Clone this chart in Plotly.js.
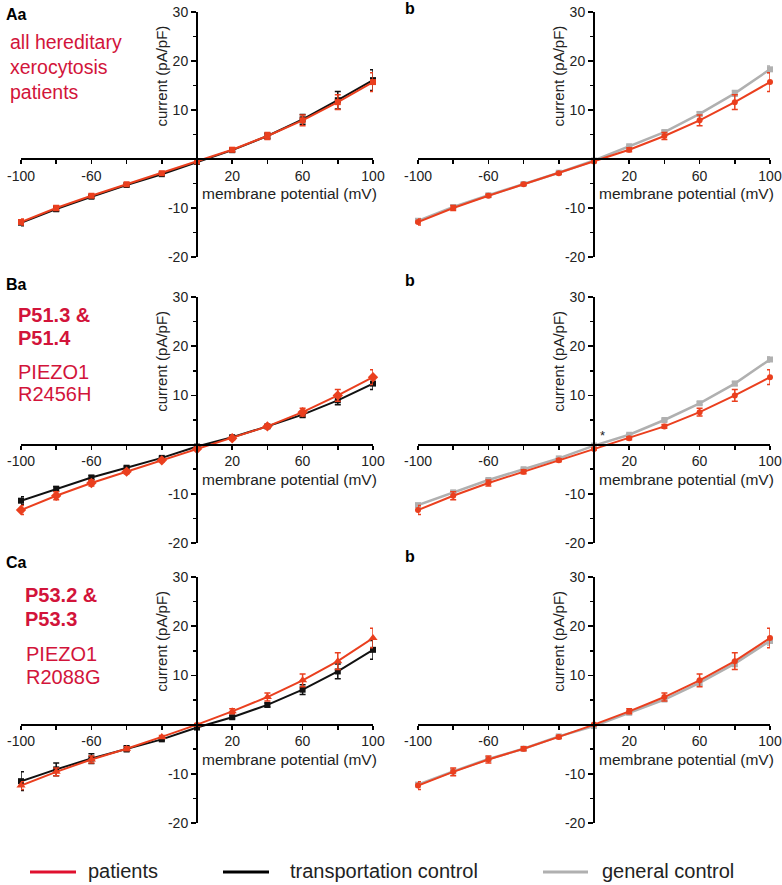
<!DOCTYPE html>
<html>
<head>
<meta charset="utf-8">
<script src="https://cdn.plot.ly/plotly-3.0.1.min.js"></script>
<style>html,body{margin:0;padding:0;background:#fff;}#chart{width:782px;height:885px;}</style>
</head>
<body>
<div id="chart"></div>
<script>
// ---------- data ----------
const voltage = [-100, -80, -60, -40, -20, 0, 20, 40, 60, 80, 100];
const xTickVals = [-100, -80, -60, -40, -20, 0, 20, 40, 60, 80, 100];
const xTickText = ['-100', '', '-60', '', '', '', '20', '', '60', '', '100'];
const yTickVals = [-20, -10, 0, 10, 20, 30];
const yTickText = ['-20', '-10', '', '10', '20', '30'];
const yMinorVals = [-15, -5, 5, 15, 25];

// A: all hereditary xerocytosis patients
const A_patients      = [-12.85, -10.0, -7.5, -5.15, -2.9, -0.5, 1.9, 4.7, 7.9, 11.6, 15.7];
const A_patients_err  = [0.6, 0.5, 0.3, 0.2, 0.2, 0.2, 0.4, 0.7, 1.1, 1.5, 1.9];
const A_transport     = [-13.0, -10.2, -7.7, -5.3, -3.1, -0.6, 1.8, 4.7, 8.1, 12.0, 16.1];
const A_transport_err = [0.6, 0.5, 0.3, 0.3, 0.2, 0.2, 0.3, 0.6, 1.0, 1.8, 2.1];
const A_general       = [-12.6, -9.8, -7.4, -5.1, -2.8, -0.3, 2.6, 5.5, 9.2, 13.4, 18.3];
const A_general_err   = [0.4, 0.3, 0.2, 0.2, 0.1, 0.1, 0.2, 0.3, 0.4, 0.6, 0.7];

// B: P51.3 & P51.4, PIEZO1 R2456H
const B_patients      = [-13.3, -10.4, -7.8, -5.5, -3.2, -0.9, 1.3, 3.7, 6.6, 10.0, 13.7];
const B_patients_err  = [0.9, 0.8, 0.6, 0.4, 0.3, 0.2, 0.3, 0.4, 0.8, 1.2, 1.5];
const B_transport     = [-11.4, -9.0, -6.7, -4.7, -2.7, -0.4, 1.5, 3.7, 6.1, 9.0, 12.4];
const B_transport_err = [0.8, 0.5, 0.4, 0.3, 0.2, 0.2, 0.3, 0.3, 0.6, 0.9, 1.2];
const B_general       = [-12.3, -9.7, -7.2, -5.0, -2.8, -0.2, 2.0, 5.0, 8.4, 12.4, 17.3];
const B_general_err   = [0.3, 0.3, 0.2, 0.2, 0.1, 0.1, 0.2, 0.2, 0.3, 0.4, 0.5];

// C: P53.2 & P53.3, PIEZO1 R2088G
const C_patients      = [-12.4, -9.6, -7.1, -4.9, -2.5, 0.0, 2.7, 5.6, 9.0, 12.9, 17.6];
const C_patients_err  = [0.8, 0.8, 0.7, 0.4, 0.3, 0.2, 0.5, 0.8, 1.3, 1.7, 2.0];
const C_transport     = [-11.5, -9.1, -6.9, -4.9, -3.0, -0.6, 1.5, 4.0, 7.1, 10.8, 15.2];
const C_transport_err = [1.9, 1.3, 1.0, 0.6, 0.3, 0.2, 0.3, 0.4, 1.0, 1.5, 1.9];
const C_general       = [-12.2, -9.5, -7.0, -4.9, -2.4, -0.3, 2.4, 5.1, 8.5, 12.4, 17.0];
const C_general_err   = [0.4, 0.3, 0.3, 0.2, 0.2, 0.1, 0.2, 0.3, 0.5, 0.6, 0.8];

const legendLabels = ['patients', 'transportation control', 'general control'];
const xTitle = 'membrane potential (mV)';
const yTitle = 'current (pA/pF)';

// ---------- styling / layout ----------
const W = 782, H = 885;
const FONT = 'Liberation Sans, Arial, Helvetica, sans-serif';
const RED = '#ea3f1e', BLACK = '#111111', GREY = '#b0b0b0', LABEL_RED = '#d2143a';

const px = v => v / W;
const py = v => 1 - v / H;

const colDomains = [[px(21), px(373)], [px(418), px(770)]];
const rowDomains = [[py(257), py(12)], [py(543), py(297)], [py(823), py(577)]];

const layout = {
  width: W, height: H,
  margin: {l: 0, r: 0, t: 0, b: 0},
  paper_bgcolor: '#fff', plot_bgcolor: 'rgba(0,0,0,0)',
  showlegend: false,
  font: {family: FONT, color: '#222'},
  annotations: [], shapes: []
};

const traces = [];
function errTrace(y, err, color, symbol, size, axN, lw) {
  const sfx = axN === 1 ? '' : String(axN);
  return {
    x: voltage, y: y, type: 'scatter', mode: 'lines+markers',
    xaxis: 'x' + sfx, yaxis: 'y' + sfx,
    line: {color: color, width: lw || 2},
    marker: {color: color, symbol: symbol, size: size},
    error_y: {type: 'data', array: err, visible: true, color: color, thickness: 1.5, width: 3},
    hoverinfo: 'skip', cliponaxis: false
  };
}

const panels = [
  {row: 0, left: [A_transport, A_transport_err], pat: [A_patients, A_patients_err], gen: [A_general, A_general_err], sym: 'square', sz: 6},
  {row: 1, left: [B_transport, B_transport_err], pat: [B_patients, B_patients_err], gen: [B_general, B_general_err], sym: 'diamond', sz: 8},
  {row: 2, left: [C_transport, C_transport_err], pat: [C_patients, C_patients_err], gen: [C_general, C_general_err], sym: 'triangle-up', sz: 8}
];

let axN = 1;
panels.forEach(p => {
  for (let col = 0; col < 2; col++) {
    const sfx = axN === 1 ? '' : String(axN);
    const xd = colDomains[col], yd = rowDomains[p.row];
    const xpos = yd[0] + 0.4 * (yd[1] - yd[0]);   // y = 0 within [-20, 30]
    const ypos = (xd[0] + xd[1]) / 2;             // x = 0 within [-100, 100]
    layout['xaxis' + sfx] = {
      domain: xd, range: [-100, 100], anchor: 'free', position: xpos,
      showline: true, linecolor: '#000', linewidth: 2, mirror: false,
      showgrid: false, zeroline: false,
      tickmode: 'array', tickvals: xTickVals, ticktext: xTickText,
      ticks: 'outside', ticklen: 4, tickwidth: 1.5, tickcolor: '#000',
      tickfont: {size: 14, color: '#222', family: FONT}, fixedrange: true
    };
    layout['yaxis' + sfx] = {
      domain: yd, range: [-20, 30], anchor: 'free', position: ypos,
      showline: true, linecolor: '#000', linewidth: 2,
      showgrid: false, zeroline: false,
      tickmode: 'array', tickvals: yTickVals, ticktext: yTickText,
      ticks: 'outside', ticklen: 5, tickwidth: 1.5, tickcolor: '#000',
      minor: {tickmode: 'array', tickvals: yMinorVals, ticks: 'outside', ticklen: 3, tickwidth: 1.5, tickcolor: '#000', showgrid: false},
      tickfont: {size: 14, color: '#222', family: FONT}, fixedrange: true
    };
    if (col === 0) {
      traces.push(errTrace(p.left[0], p.left[1], BLACK, 'square', 6, axN, 2));
      traces.push(errTrace(p.pat[0], p.pat[1], RED, p.sym, p.sz, axN, 2));
    } else {
      traces.push(errTrace(p.gen[0], p.gen[1], GREY, 'square', 6, axN, 2.5));
      traces.push(errTrace(p.pat[0], p.pat[1], RED, 'circle', 6, axN, 2));
    }
    // axis titles
    layout.annotations.push({
      xref: 'x' + sfx, yref: 'y' + sfx, x: -20, y: 17, text: yTitle, textangle: -90,
      showarrow: false, xanchor: 'center', yanchor: 'middle',
      font: {size: 15, color: '#222', family: FONT}
    });
    layout.annotations.push({
      xref: 'x' + sfx, yref: 'y' + sfx, x: 100, xshift: 6, y: -7.0, text: xTitle,
      showarrow: false, xanchor: 'right', yanchor: 'middle',
      font: {size: 15.5, color: '#222', family: FONT}
    });
    axN++;
  }
});

// asterisk in B b
layout.annotations.push({xref: 'x4', yref: 'y4', x: 5, y: 1.8, text: '*', showarrow: false,
  font: {size: 13, color: '#222', family: FONT}});

// panel letters
function txt(x, y, text, size, color, bold) {
  layout.annotations.push({
    xref: 'paper', yref: 'paper', x: px(x), y: py(y), text: bold ? '<b>' + text + '</b>' : text,
    showarrow: false, xanchor: 'left', yanchor: 'middle',
    font: {size: size, color: color, family: FONT}
  });
}
txt(4, 14, 'Aa', 16, '#000', true);
txt(403, 9, 'b', 16, '#000', true);
txt(4, 284, 'Ba', 16, '#000', true);
txt(403, 280, 'b', 16, '#000', true);
txt(4, 562, 'Ca', 16, '#000', true);
txt(403, 556, 'b', 16, '#000', true);

// red group labels
txt(8, 42, 'all hereditary', 19.5, LABEL_RED, false);
txt(8, 67, 'xerocytosis', 19.5, LABEL_RED, false);
txt(8, 92, 'patients', 19.5, LABEL_RED, false);

txt(16, 315, 'P51.3 &', 20, LABEL_RED, true);
txt(16, 338, 'P51.4', 20, LABEL_RED, true);
txt(16, 372, 'PIEZO1', 20, LABEL_RED, false);
txt(16, 394, 'R2456H', 20, LABEL_RED, false);

txt(23, 595, 'P53.2 &', 20, LABEL_RED, true);
txt(23, 619, 'P53.3', 20, LABEL_RED, true);
txt(24, 654, 'PIEZO1', 20, LABEL_RED, false);
txt(24, 677, 'R2088G', 20, LABEL_RED, false);

// legend
const legendItems = [
  {x0: 30, x1: 76, tx: 86, color: '#e0102e'},
  {x0: 223, x1: 269, tx: 288, color: '#000'},
  {x0: 543, x1: 588, tx: 600, color: GREY}
];
legendItems.forEach((it, i) => {
  layout.shapes.push({type: 'line', xref: 'paper', yref: 'paper',
    x0: px(it.x0), x1: px(it.x1), y0: py(872), y1: py(872),
    line: {color: it.color, width: 3}});
  txt(it.tx, 871, legendLabels[i], 20, '#222', false);
});

Plotly.newPlot('chart', traces, layout, {displayModeBar: false, staticPlot: true});
</script>
</body>
</html>
